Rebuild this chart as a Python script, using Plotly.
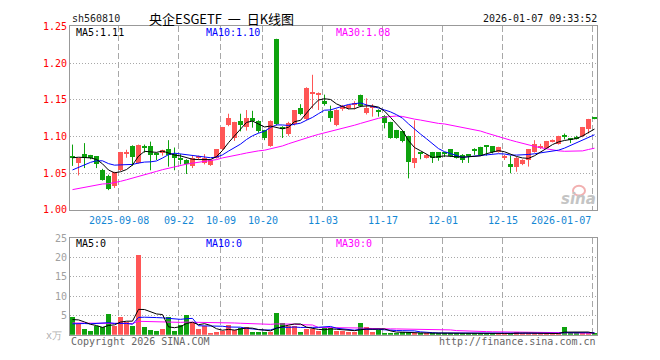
import plotly.graph_objects as go
import pandas as pd

W, H = 660, 360

# ---------------- data ----------------
holidays = ["2025-10-01", "2025-10-02", "2025-10-03", "2025-10-06", "2025-10-07",
            "2025-10-08", "2026-01-01", "2026-01-02"]
dates = [d.strftime("%Y-%m-%d") for d in pd.bdate_range("2025-08-27", "2026-01-07")
         if d.strftime("%Y-%m-%d") not in holidays]

open_ = [1.073, 1.063, 1.076, 1.074, 1.073, 1.054, 1.046, 1.032, 1.054, 1.076,
         1.087, 1.064, 1.085, 1.087, 1.077, 1.077, 1.082, 1.076, 1.070, 1.068,
         1.059, 1.071, 1.064, 1.061, 1.071, 1.082, 1.115, 1.097, 1.121, 1.113,
         1.125, 1.121, 1.108, 1.087, 1.232, 1.113, 1.103, 1.116, 1.139, 1.124,
         1.158, 1.157, 1.148, 1.134, 1.115, 1.137, 1.139, 1.143, 1.156, 1.131,
         1.139, 1.135, 1.128, 1.119, 1.108, 1.107, 1.100, 1.064, 1.077, 1.071,
         1.078, 1.078, 1.077, 1.082, 1.078, 1.075, 1.075, 1.081, 1.085, 1.087,
         1.086, 1.079, 1.071, 1.062, 1.058, 1.062, 1.067, 1.079, 1.085, 1.084,
         1.093, 1.090, 1.101, 1.097, 1.098, 1.100, 1.110, 1.1245]
high = [1.089, 1.071, 1.091, 1.075, 1.073, 1.056, 1.048, 1.052, 1.079, 1.082,
        1.088, 1.089, 1.089, 1.093, 1.078, 1.082, 1.095, 1.085, 1.076, 1.069,
        1.074, 1.074, 1.076, 1.069, 1.083, 1.113, 1.131, 1.120, 1.131, 1.136,
        1.135, 1.122, 1.109, 1.122, 1.233, 1.114, 1.120, 1.136, 1.144, 1.167,
        1.184, 1.160, 1.157, 1.142, 1.137, 1.143, 1.143, 1.148, 1.157, 1.152,
        1.144, 1.137, 1.129, 1.120, 1.109, 1.108, 1.101, 1.122, 1.078, 1.076,
        1.079, 1.078, 1.079, 1.083, 1.078, 1.076, 1.076, 1.084, 1.086, 1.088,
        1.087, 1.086, 1.075, 1.074, 1.072, 1.069, 1.083, 1.095, 1.090, 1.094,
        1.096, 1.101, 1.104, 1.098, 1.101, 1.113, 1.124, 1.1245]
low = [1.060, 1.047, 1.057, 1.069, 1.057, 1.040, 1.027, 1.030, 1.053, 1.071,
       1.060, 1.063, 1.078, 1.054, 1.068, 1.074, 1.059, 1.054, 1.062, 1.049,
       1.057, 1.068, 1.062, 1.060, 1.070, 1.081, 1.114, 1.094, 1.107, 1.108,
       1.112, 1.105, 1.095, 1.086, 1.115, 1.098, 1.101, 1.115, 1.129, 1.122,
       1.138, 1.136, 1.142, 1.120, 1.114, 1.135, 1.137, 1.137, 1.140, 1.130,
       1.127, 1.127, 1.111, 1.097, 1.097, 1.092, 1.043, 1.057, 1.069, 1.070,
       1.064, 1.067, 1.072, 1.072, 1.070, 1.064, 1.064, 1.075, 1.074, 1.074,
       1.077, 1.078, 1.068, 1.050, 1.052, 1.061, 1.059, 1.078, 1.083, 1.083,
       1.092, 1.089, 1.096, 1.091, 1.096, 1.099, 1.104, 1.1235]
close = [1.071, 1.070, 1.070, 1.071, 1.062, 1.041, 1.028, 1.051, 1.078, 1.077,
         1.072, 1.088, 1.084, 1.074, 1.074, 1.081, 1.074, 1.071, 1.068, 1.062,
         1.070, 1.072, 1.071, 1.068, 1.082, 1.112, 1.125, 1.119, 1.115, 1.125,
         1.121, 1.107, 1.097, 1.121, 1.116, 1.111, 1.118, 1.135, 1.130, 1.166,
         1.159, 1.158, 1.144, 1.125, 1.136, 1.141, 1.142, 1.145, 1.141, 1.139,
         1.141, 1.134, 1.118, 1.098, 1.098, 1.093, 1.065, 1.071, 1.076, 1.075,
         1.070, 1.071, 1.076, 1.073, 1.071, 1.068, 1.074, 1.080, 1.075, 1.086,
         1.078, 1.085, 1.072, 1.058, 1.071, 1.068, 1.082, 1.090, 1.086, 1.093,
         1.094, 1.100, 1.100, 1.095, 1.097, 1.112, 1.123, 1.1237]
volume = [4.5, 2.8, 1.4, 0.9, 2.2, 2.1, 5.3, 2.2, 4.5, 3.3,
          2.2, 20.5, 2.0, 1.2, 0.9, 1.4, 4.6, 0.9, 2.6, 5.0,
          3.0, 1.4, 2.2, 0.4, 0.7, 1.0, 2.6, 1.2, 1.8, 2.1,
          0.7, 0.7, 0.7, 0.7, 5.6, 3.1, 2.2, 2.2, 0.7, 1.5,
          1.5, 0.9, 1.8, 1.8, 1.0, 1.0, 0.7, 0.7, 2.9, 2.1,
          0.7, 1.2, 0.5, 0.4, 0.5, 0.6, 0.6, 0.3, 0.3, 0.3,
          0.5, 0.4, 0.5, 0.4, 0.3, 0.4, 0.3, 0.3, 0.4, 0.3,
          0.3, 0.3, 0.3, 0.4, 0.8, 0.3, 0.3, 0.3, 0.3, 0.3,
          0.3, 0.3, 2.1, 0.3, 0.3, 0.3, 0.4, 0.3]

# closes / volumes of the 29 sessions before the window
closes_before = [1.020, 1.018, 1.015, 1.017, 1.014, 1.016, 1.018, 1.015, 1.013,
                 1.010, 1.012, 1.009, 1.011, 1.008, 1.010, 1.012, 1.011, 1.013, 1.014,
                 1.030, 1.034, 1.036, 1.038, 1.040, 1.042,
                 1.066, 1.072, 1.074, 1.072]
volumes_before = [3.2, 2.8, 3.5, 2.9, 3.1, 3.4, 2.7, 3.0, 3.3, 2.9,
                  3.2, 3.6, 2.8, 3.0, 3.1, 3.4, 2.9, 3.0, 3.2, 3.3,
                  1.5, 1.9, 1.6, 1.8, 1.7,
                  3.2, 4.1, 3.9, 3.8]

tick_dates = ["2025-09-08", "2025-09-22", "2025-10-09", "2025-10-20", "2025-11-03",
              "2025-11-17", "2025-12-01", "2025-12-15", "2026-01-07"]
tick_text = ["2025-09-08", "09-22", "10-09", "10-20", "11-03",
             "11-17", "12-01", "12-15", "2026-01-07"]
price_ticks = [1.00, 1.05, 1.10, 1.15, 1.20, 1.25]
vol_ticks = [5, 10, 15, 20, 25]

ma_labels = ["MA5:1.11", "MA10:1.10", "MA30:1.08"]
vol_ma_labels = ["MA5:0", "MA10:0", "MA30:0"]

# ---------------- derived ----------------
n = len(close)
xs = list(range(n))
c_all = pd.Series(closes_before + close)
v_all = pd.Series(volumes_before + volume)
ma = {p: c_all.rolling(p).mean().tolist()[-n:] for p in (5, 10, 30)}
vma = {p: v_all.rolling(p).mean().tolist()[-n:] for p in (5, 10, 30)}

RED = "#ff5656"
GREEN = "#0ea20e"
up = [c > o for o, c in zip(open_, close)]
colors = [RED if u else GREEN for u in up]
MONO = "DejaVu Sans Mono"

fig = go.Figure()

# wicks
for flag, col in ((True, RED), (False, GREEN)):
    wx, wy = [], []
    for i in xs:
        if up[i] == flag:
            wx += [i, i, None]
            wy += [low[i], high[i], None]
    fig.add_trace(go.Scatter(x=wx, y=wy, mode="lines", line=dict(color=col, width=1),
                             hoverinfo="skip", showlegend=False, xaxis="x", yaxis="y"))

# bodies
base = [min(o, c) for o, c in zip(open_, close)]
hgt = [max(abs(c - o), 0.0014) for o, c in zip(open_, close)]
fig.add_trace(go.Bar(x=xs, y=hgt, base=base, width=0.83, marker=dict(color=colors, line=dict(width=0)),
                     showlegend=False, xaxis="x", yaxis="y"))

# price MAs
for p, col in ((30, "#ff00ff"), (10, "#0000ff"), (5, "#000000")):
    fig.add_trace(go.Scatter(x=xs, y=ma[p], mode="lines", line=dict(color=col, width=1),
                             showlegend=False, xaxis="x", yaxis="y"))

# volume bars
fig.add_trace(go.Bar(x=xs, y=volume, width=0.83, marker=dict(color=colors, line=dict(width=0)),
                     showlegend=False, xaxis="x2", yaxis="y2"))
for p, col in ((30, "#ff00ff"), (10, "#0000ff"), (5, "#000000")):
    fig.add_trace(go.Scatter(x=xs, y=vma[p], mode="lines", line=dict(color=col, width=1),
                             showlegend=False, xaxis="x2", yaxis="y2"))

# ---------------- layout ----------------
xl, xr = 70, 597
x0 = -0.4167
x1 = x0 + (xr - xl) / 6.0
tick_idx = [dates.index(d) - 1 / 3 for d in tick_dates]

def px_y(top, bottom):
    return [(H - bottom) / H, (H - top) / H]

grid_common = dict(showline=True, mirror=True, linecolor="#999999", linewidth=1,
                   zeroline=False, ticks="", fixedrange=True)

fig.update_layout(
    width=W, height=H, margin=dict(l=0, r=0, t=0, b=0),
    paper_bgcolor="white", plot_bgcolor="white", bargap=0, barmode="overlay",
    showlegend=False,
    xaxis=dict(domain=[xl / W, xr / W], range=[x0, x1], tickvals=tick_idx, showticklabels=False,
               showgrid=True, gridcolor="#a8a8a8", griddash="6px,3px", gridwidth=1,
               anchor="y", **grid_common),
    xaxis2=dict(domain=[xl / W, xr / W], range=[x0, x1], tickvals=tick_idx, showticklabels=False,
                showgrid=True, gridcolor="#a8a8a8", griddash="6px,3px", gridwidth=1,
                anchor="y2", **grid_common),
    yaxis=dict(domain=px_y(21, 211), range=[1.0, 1.25], tickvals=price_ticks,
               ticktext=[f"{v:.2f}" for v in price_ticks],
               tickfont=dict(family=MONO, size=10, color="#ff0000"),
               showgrid=True, gridcolor="#a8a8a8", griddash="1px,2px", gridwidth=1,
               anchor="x", **grid_common),
    yaxis2=dict(domain=px_y(240, 340), range=[0, 25], tickvals=vol_ticks,
                ticktext=[str(v) for v in vol_ticks],
                tickfont=dict(family=MONO, size=10, color="#a0a0a0"),
                showgrid=True, gridcolor="#a8a8a8", griddash="1px,2px", gridwidth=1,
                anchor="x2", **grid_common),
)

def ann(text, x, y, color="#000", size=10, anchor="left", family=MONO, **kw):
    fig.add_annotation(text=text, x=x / W, y=1 - y / H, xref="paper", yref="paper",
                       xanchor=anchor, yanchor="middle", showarrow=False,
                       font=dict(family=family, size=size, color=color), **kw)

ann("sh560810", 70, 13, color="#222")
ann("央企ESGETF\u00a0\u00a0一\u00a0\u00a0日K线图", 221, 13, color="#000", size=13, anchor="center",
    family="Noto Sans CJK SC")
ann("2026-01-07 09:33:52", 599, 13, color="#111", anchor="right")

ann(ma_labels[0], 74, 27, color="#000")
ann(ma_labels[1], 204, 27, color="#0000ff")
ann(ma_labels[2], 334, 27, color="#ff00ff")
ann(vol_ma_labels[0], 74, 246, color="#000")
ann(vol_ma_labels[1], 204, 246, color="#0000ff")
ann(vol_ma_labels[2], 334, 246, color="#ff00ff")

for t, lab in zip(tick_idx, tick_text):
    fig.add_annotation(text=lab, x=t, y=1 - 222 / H, xref="x", yref="paper",
                       xanchor="right" if lab == tick_text[-1] else "center", yanchor="middle",
                       showarrow=False, font=dict(family=MONO, size=10, color="#1487d4"))

ann("x万", 64, 341, color="#b0b0b0", anchor="right")
ann("Copyright 2026 SINA.COM", 69, 347, color="#666")
ann("http://finance.sina.com.cn", 598, 347, color="#666", anchor="right")

# sina watermark
fig.add_shape(type="circle", xref="paper", yref="paper",
              x0=573 / W, x1=585 / W, y0=1 - 196 / H, y1=1 - 186 / H,
              line=dict(color="#f2b0b0", width=2))
ann("<b><i>sina</i></b>", 598, 200, color="#c4c4c4", size=15, anchor="right",
    family="DejaVu Sans")

fig.write_html("out.html")
